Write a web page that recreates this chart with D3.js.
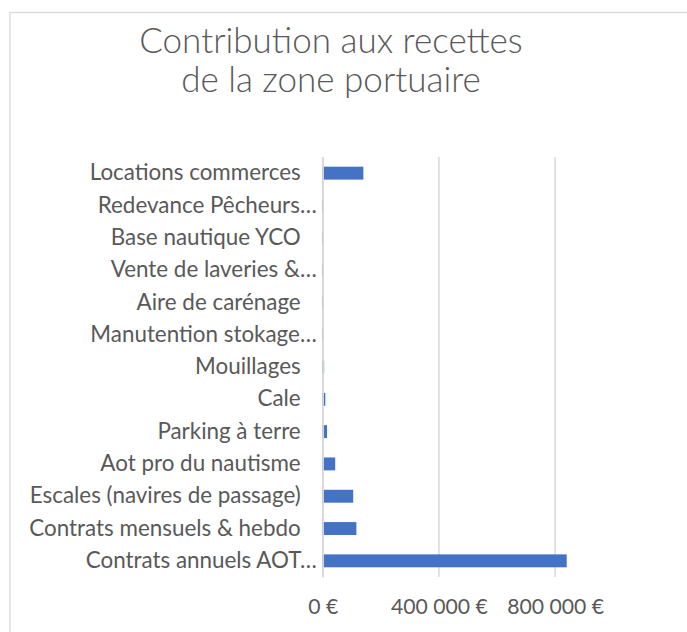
<!DOCTYPE html>
<html>
<head>
<meta charset="utf-8">
<script src="https://cdn.jsdelivr.net/npm/d3@7"></script>
<style>
  body { margin: 0; background: #fff; }
  svg { display: block; }
</style>
</head>
<body>
<div id="chart"></div>
<script>
// categories, top to bottom as shown
const categories = [
  'Locations commerces',
  'Redevance Pêcheurs…',
  'Base nautique YCO',
  'Vente de laveries &…',
  'Aire de carénage',
  'Manutention stokage…',
  'Mouillages',
  'Cale',
  'Parking à terre',
  'Aot pro du nautisme',
  'Escales (navires de passage)',
  'Contrats mensuels & hebdo',
  'Contrats annuels AOT…',
];
const values = [140000, 1500, 1200, 1500, 1200, 1500, 5000, 9000, 15000, 43000, 105000, 116000, 840000];
const tickValues = [0, 400000, 800000];
const titleLines = ['Contribution aux recettes', 'de la zone portuaire'];

const size = { width: 687, height: 632 };
const font = 'Lato, Carlito, Calibri, sans-serif';
const textColor = '#595959';
const gridColor = '#d9d9d9';

const svg = d3
  .select('#chart')
  .append('svg')
  .attr('width', size.width)
  .attr('height', size.height);

// chart frame (cut off at right and bottom like the screenshot)
svg
  .append('rect')
  .attr('x', 10)
  .attr('y', 12.5)
  .attr('width', 800)
  .attr('height', 800)
  .attr('fill', 'white')
  .attr('stroke', gridColor)
  .attr('stroke-width', 1.3);

svg
  .append('g')
  .selectAll('text')
  .data(titleLines)
  .enter()
  .append('text')
  .attr('x', 331)
  .attr('y', (d, i) => 53 + i * 38.5)
  .attr('text-anchor', 'middle')
  .attr('font-family', font)
  .attr('font-weight', 300)
  .attr('font-size', 35)
  .attr('fill', textColor)
  .text((d) => d);

const x = d3.scaleLinear().domain([0, 1000000]).range([322.7, 613.2]);
const y = d3
  .scaleBand()
  .domain(categories)
  .range([157, 577])
  .paddingInner(0.6)
  .paddingOuter(0.3);

// gridlines
svg
  .append('g')
  .selectAll('line')
  .data(tickValues)
  .enter()
  .append('line')
  .attr('x1', (d) => x(d))
  .attr('x2', (d) => x(d))
  .attr('y1', 157)
  .attr('y2', 577)
  .attr('stroke', gridColor)
  .attr('stroke-width', 1.5);

// bars
svg
  .append('g')
  .selectAll('rect')
  .data(categories)
  .enter()
  .append('rect')
  .attr('x', x(0))
  .attr('y', (d) => y(d))
  .attr('width', (d, i) => x(values[i]) - x(0))
  .attr('height', y.bandwidth())
  .attr('fill', '#4472c4');

// category axis
const yAxis = svg
  .append('g')
  .attr('transform', `translate(${x(0)},0)`)
  .call(d3.axisLeft(y).tickSize(0).tickPadding(22));
yAxis.select('.domain').attr('stroke', gridColor).attr('stroke-width', 1.5);
yAxis
  .selectAll('text')
  .attr('font-family', font)
  .attr('font-size', 22.4)
  .attr('fill', textColor)
  .attr('dx', (d) => (d.endsWith('…') ? 16 : 0));

// value axis
const fr = d3.formatLocale({
  decimal: ',',
  thousands: '\u00a0',
  grouping: [3],
  currency: ['', '\u00a0€'],
});
const xAxis = svg
  .append('g')
  .attr('transform', 'translate(0,577)')
  .call(
    d3
      .axisBottom(x)
      .tickValues(tickValues)
      .tickSize(0)
      .tickPadding(22)
      .tickFormat(fr.format('$,.0f')),
  );
xAxis.select('.domain').remove();
xAxis
  .selectAll('text')
  .attr('font-family', font)
  .attr('font-size', 21.2)
  .attr('fill', textColor);
</script>
</body>
</html>
